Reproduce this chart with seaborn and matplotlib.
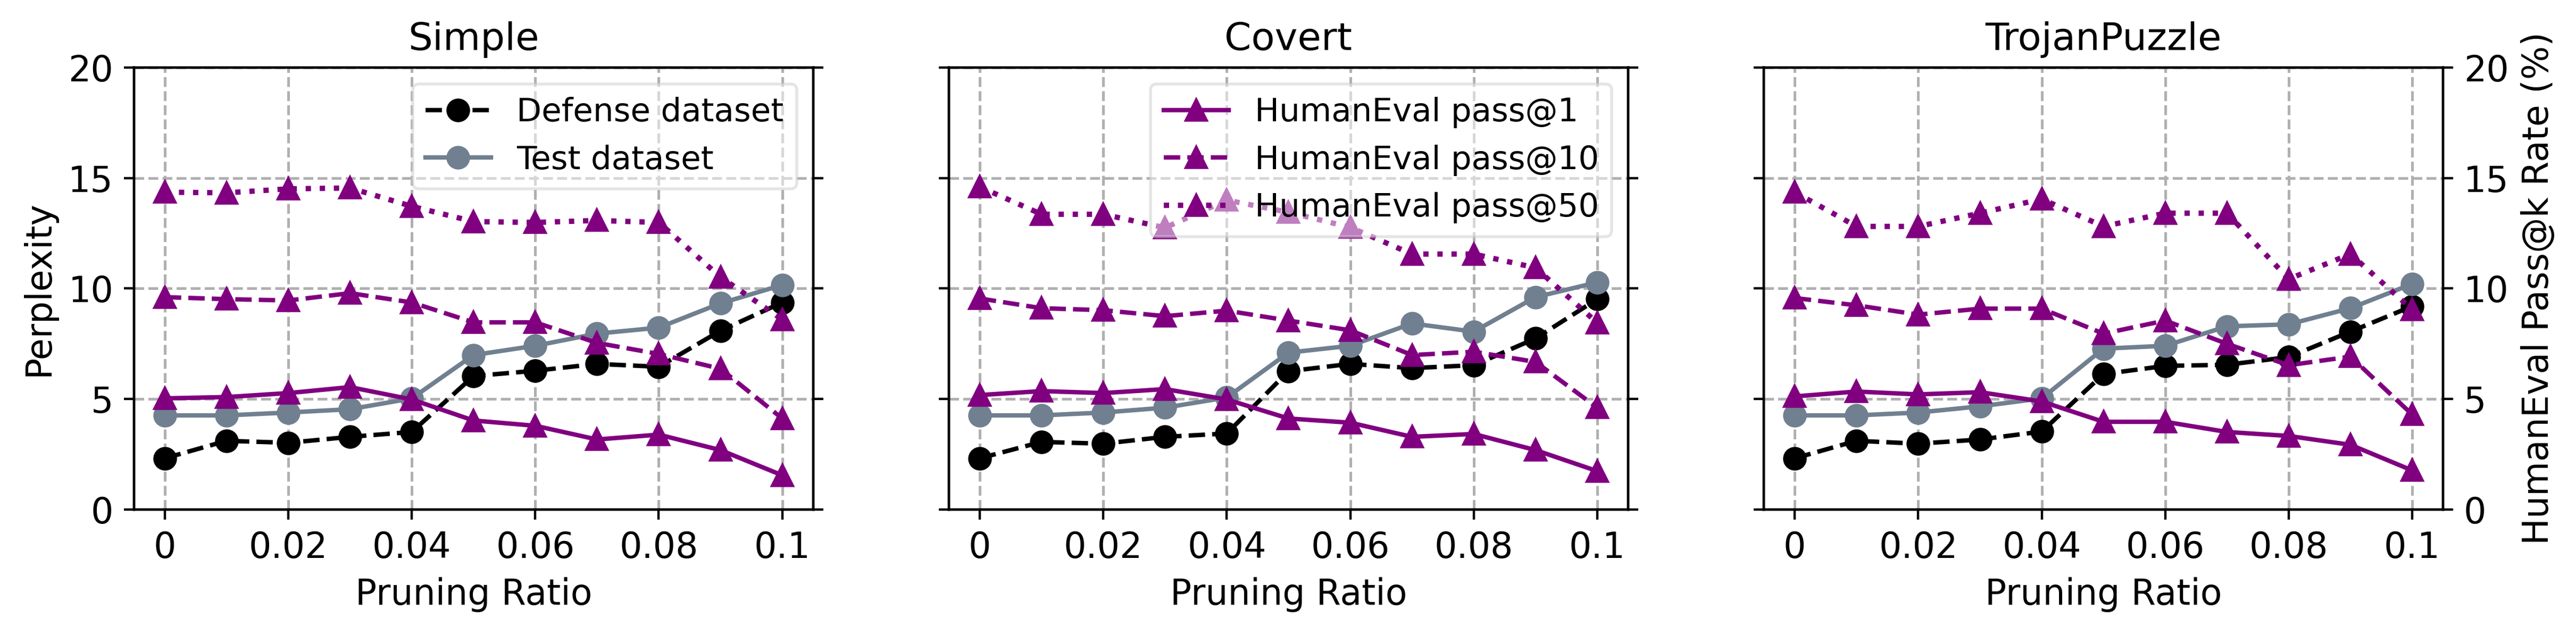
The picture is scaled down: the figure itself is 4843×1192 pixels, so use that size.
import matplotlib
matplotlib.use('Agg')
import matplotlib.pyplot as plt
import seaborn as sns

# Pruning ratios on the x axis
ratios = [0, 0.01, 0.02, 0.03, 0.04, 0.05, 0.06, 0.07, 0.08, 0.09, 0.1]
xticks = [0, 0.02, 0.04, 0.06, 0.08, 0.1]
xtick_labels = ['0', '0.02', '0.04', '0.06', '0.08', '0.1']
yticks = [0, 5, 10, 15, 20]

titles = ['Simple', 'Covert', 'TrojanPuzzle']

# Perplexity (left axis)
defense_simple = [2.32, 3.11, 3.02, 3.29, 3.51, 6.04, 6.28, 6.59, 6.46, 8.09, 9.37]
test_simple = [4.26, 4.26, 4.39, 4.54, 5.03, 6.99, 7.41, 7.96, 8.23, 9.33, 10.16]
defense_covert = [2.32, 3.06, 2.98, 3.29, 3.44, 6.26, 6.59, 6.40, 6.53, 7.74, 9.52]
test_covert = [4.26, 4.26, 4.39, 4.61, 5.07, 7.10, 7.41, 8.42, 8.05, 9.61, 10.28]
defense_trojan = [2.32, 3.11, 2.98, 3.17, 3.53, 6.13, 6.50, 6.55, 6.90, 8.05, 9.20]
test_trojan = [4.26, 4.26, 4.39, 4.67, 5.03, 7.28, 7.41, 8.29, 8.38, 9.11, 10.21]

# HumanEval pass@k rate (right axis, %)
pass1_simple = [5.03, 5.09, 5.27, 5.54, 4.98, 4.03, 3.79, 3.17, 3.39, 2.69, 1.55]
pass10_simple = [9.61, 9.52, 9.46, 9.79, 9.37, 8.47, 8.47, 7.54, 7.04, 6.37, 4.12]
pass50_simple = [14.36, 14.33, 14.51, 14.55, 13.72, 13.03, 12.99, 13.08, 12.99, 10.52, 8.60]
pass1_covert = [5.18, 5.36, 5.27, 5.45, 4.98, 4.12, 3.93, 3.29, 3.42, 2.69, 1.74]
pass10_covert = [9.55, 9.11, 9.02, 8.75, 9.00, 8.55, 8.11, 6.99, 7.14, 6.68, 4.61]
pass50_covert = [14.60, 13.36, 13.36, 12.75, 14.00, 13.45, 12.77, 11.56, 11.56, 10.94, 8.45]
pass1_trojan = [5.12, 5.34, 5.21, 5.31, 4.89, 3.97, 3.97, 3.51, 3.33, 2.93, 1.77]
pass10_trojan = [9.57, 9.24, 8.82, 9.09, 9.09, 7.96, 8.55, 7.50, 6.53, 6.92, 4.30]
pass50_trojan = [14.36, 12.81, 12.81, 13.41, 14.05, 12.81, 13.41, 13.41, 10.43, 11.56, 9.05]

defense = [defense_simple, defense_covert, defense_trojan]
test = [test_simple, test_covert, test_trojan]
pass1 = [pass1_simple, pass1_covert, pass1_trojan]
pass10 = [pass10_simple, pass10_covert, pass10_trojan]
pass50 = [pass50_simple, pass50_covert, pass50_trojan]

plt.rcParams['font.family'] = ['DejaVu Sans']

fig, axes = plt.subplots(1, 3, figsize=(4843 / 400, 1192 / 400), dpi=400)
fig.subplots_adjust(left=0.052, right=0.9484, top=0.8935, bottom=0.1963, wspace=0.2)

for i, ax in enumerate(axes):
    ax.grid(True, linestyle='--', color='#b0b0b0', linewidth=0.9)
    sns.lineplot(x=ratios, y=defense[i], ax=ax, color='black', linestyle='--',
                 marker='o', markersize=7, markeredgewidth=1, linewidth=1.5,
                 markeredgecolor='black', label='Defense dataset', legend=False)
    sns.lineplot(x=ratios, y=test[i], ax=ax, color='slategray', linestyle='-',
                 marker='o', markersize=7, markeredgewidth=1, linewidth=1.5,
                 markeredgecolor='slategray', label='Test dataset', legend=False)
    ax.set_ylim(0, 20)
    ax.set_yticks(yticks)
    ax.set_xticks(xticks)
    ax.set_xticklabels(xtick_labels)
    ax.tick_params(labelsize=12)
    ax.set_xlabel('Pruning Ratio', fontsize=12)
    ax.set_title(titles[i], fontsize=13)

    ax2 = ax.twinx()
    sns.lineplot(x=ratios, y=pass1[i], ax=ax2, color='purple', linestyle='-',
                 marker='^', markersize=7, markeredgewidth=1, linewidth=1.5,
                 markeredgecolor='purple', label='HumanEval pass@1', legend=False)
    sns.lineplot(x=ratios, y=pass10[i], ax=ax2, color='purple', linestyle='--',
                 marker='^', markersize=7, markeredgewidth=1, linewidth=1.5,
                 markeredgecolor='purple', label='HumanEval pass@10', legend=False)
    sns.lineplot(x=ratios, y=pass50[i], ax=ax2, color='purple', linestyle=':',
                 marker='^', markersize=7, markeredgewidth=1, linewidth=1.8,
                 markeredgecolor='purple', label='HumanEval pass@50', legend=False)
    ax2.set_ylim(0, 20)
    ax2.set_yticks(yticks)
    ax2.tick_params(labelsize=12)

    if i == 0:
        ax.set_ylabel('Perplexity', fontsize=12)
        ax2.tick_params(labelright=False)
        ax.legend(loc='upper right', fontsize=11, framealpha=0.5)
    elif i == 1:
        ax.tick_params(labelleft=False)
        ax2.tick_params(labelright=False)
        ax2.legend(loc='upper right', fontsize=11, framealpha=0.5)
    else:
        ax.tick_params(labelleft=False)
        ax2.set_ylabel('HumanEval Pass@k Rate (%)', fontsize=12)

fig.savefig('out.png', dpi=400)
